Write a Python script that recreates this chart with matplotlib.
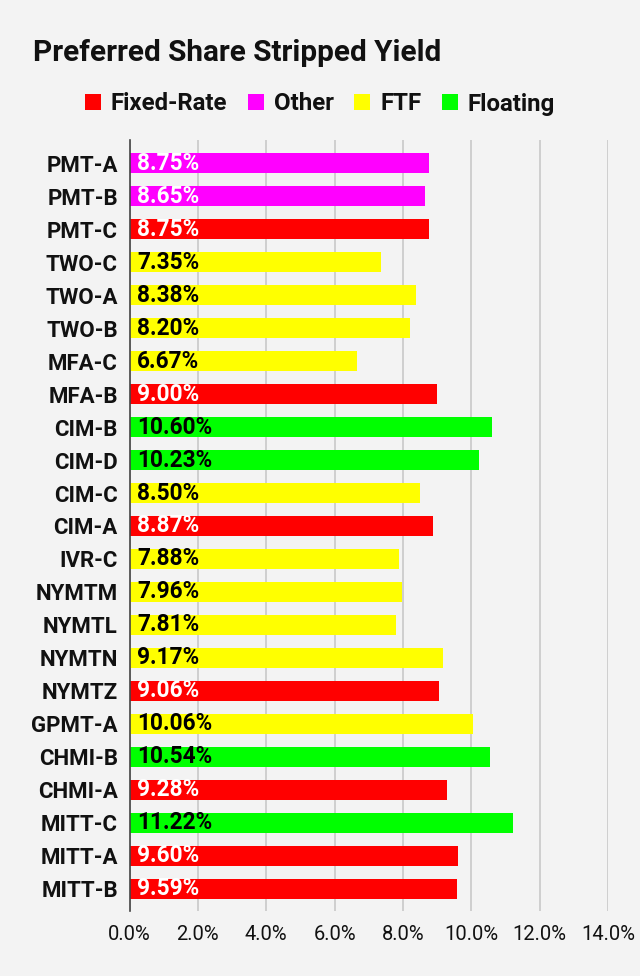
import matplotlib
matplotlib.use("Agg")
import matplotlib.pyplot as plt
from matplotlib.patches import Patch

plt.rcParams['font.family'] = ['Roboto', 'DejaVu Sans']

tickers = ["PMT-A", "PMT-B", "PMT-C", "TWO-C", "TWO-A", "TWO-B", "MFA-C", "MFA-B",
           "CIM-B", "CIM-D", "CIM-C", "CIM-A", "IVR-C", "NYMTM", "NYMTL", "NYMTN",
           "NYMTZ", "GPMT-A", "CHMI-B", "CHMI-A", "MITT-C", "MITT-A", "MITT-B"]
yields = [8.75, 8.65, 8.75, 7.35, 8.38, 8.20, 6.67, 9.00,
          10.60, 10.23, 8.50, 8.87, 7.88, 7.96, 7.81, 9.17,
          9.06, 10.06, 10.54, 9.28, 11.22, 9.60, 9.59]
types = ["Other", "Other", "Fixed-Rate", "FTF", "FTF", "FTF", "FTF", "Fixed-Rate",
         "Floating", "Floating", "FTF", "Fixed-Rate", "FTF", "FTF", "FTF", "FTF",
         "Fixed-Rate", "FTF", "Floating", "Fixed-Rate", "Floating", "Fixed-Rate", "Fixed-Rate"]
categories = ["Fixed-Rate", "Other", "FTF", "Floating"]
cat_colors = {"Fixed-Rate": "#FF0000", "Other": "#FF00FF", "FTF": "#FFFF00", "Floating": "#00FF00"}
label_colors = {"Fixed-Rate": "white", "Other": "white", "FTF": "black", "Floating": "black"}
xticks = [0, 2, 4, 6, 8, 10, 12, 14]

bg = "#F3F3F3"
fig = plt.figure(figsize=(6.4, 9.76), dpi=100, facecolor=bg)
ax = fig.add_axes([129.5/640, 65/976, 478.5/640, 771/976], facecolor=bg)

ypos = list(range(len(tickers)))
ax.barh(ypos, yields, height=0.625, color=[cat_colors[t] for t in types], zorder=3)
for y, v, t in zip(ypos, yields, types):
    ax.annotate(f"{v:.2f}%", xy=(0, y), xytext=(5.5, 0), textcoords="offset points",
                ha="left", va="center", fontsize=16.3, fontweight="bold",
                color=label_colors[t], zorder=4)

ax.set_ylim(len(tickers) - 1 + 0.67, -0.70)
ax.set_xlim(0, 14)
ax.set_yticks(ypos)
ax.set_yticklabels(tickers, fontsize=16.0, fontweight="bold")
ax.set_xticks(xticks)
ax.set_xticklabels([f"{x:.1f}%" for x in xticks], fontsize=14.5)
ax.tick_params(axis="both", length=0, colors="#111111")
ax.tick_params(axis="y", pad=8.4)
ax.tick_params(axis="x", pad=10)
ax.grid(axis="x", color="#CCCCCC", linewidth=1.3, zorder=0)
for s in ["top", "right", "bottom"]:
    ax.spines[s].set_visible(False)
ax.spines["left"].set_color("#444444")
ax.spines["left"].set_linewidth(1.2)
ax.spines["left"].set_zorder(5)

fig.text(32.7/640, 1 - 61.5/976, "Preferred Share Stripped Yield", fontsize=21.4,
         fontweight="bold", ha="left", va="baseline", color="#111111")

handles = [Patch(facecolor=cat_colors[c], edgecolor="none") for c in categories]
leg = fig.legend(handles, categories, loc="center", bbox_to_anchor=(0.5, 1 - 104/976),
                 ncol=4, frameon=False, fontsize=17.3, handlelength=0.66, handleheight=0.66,
                 handletextpad=0.42, columnspacing=0.85, borderaxespad=0)
for t in leg.get_texts():
    t.set_fontweight("bold")
    t.set_color("#111111")

fig.savefig("out.png", dpi=100, facecolor=bg)
